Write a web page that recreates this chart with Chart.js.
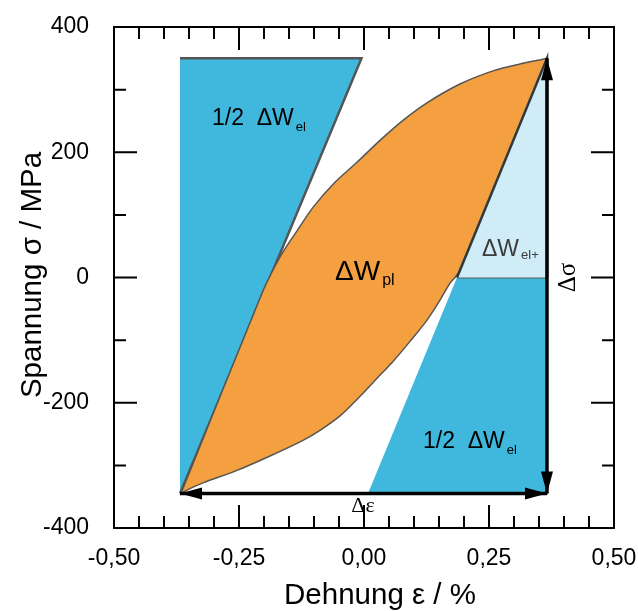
<!DOCTYPE html>
<html>
<head>
<meta charset="utf-8">
<script src="https://cdn.jsdelivr.net/npm/chart.js@4.4.0/dist/chart.umd.min.js"></script>
<style>
  html, body { margin: 0; padding: 0; background: #fff; }
  #chart { display: block; }
</style>
</head>
<body>
<canvas id="chart" width="638" height="611"></canvas>
<script>
// axis ticks
const strainTicks = [-0.5, -0.25, 0, 0.25, 0.5];
const strainTickLabels = ['-0,50', '-0,25', '0,00', '0,25', '0,50'];
const stressTicks = [-400, -200, 0, 200, 400];
const stressTickLabels = ['-400', '-200', '0', '200', '400'];

// hysteresis loop: loading branch (min -> max)
const loadStrain = [-0.366, -0.358, -0.204, -0.184, -0.162, -0.136, -0.102, -0.058, -0.014, 0.032, 0.078, 0.126, 0.192, 0.258, 0.312, 0.360, 0.366];
const loadStress = [-345, -329, -25, 9, 41, 72, 112, 152, 184, 219, 251, 279, 309, 330, 341, 349, 350];
// unloading branch (max -> min)
const unloadStrain = [0.366, 0.361, 0.190, 0.172, 0.152, 0.126, 0.092, 0.058, 0.026, -0.006, -0.048, -0.088, -0.122, -0.188, -0.254, -0.322, -0.358, -0.366];
const unloadStress = [350, 340, 9, -9, -36, -68, -102, -134, -161, -188, -221, -244, -260, -285, -308, -328, -341, -345];

// elastic energy areas
const elTopStrain = [-0.368, -0.005, -0.368];
const elTopStress = [350, 350, -345];
const elPlusStrain = [0.186, 0.366, 0.366];
const elPlusStress = [0, 350, 0];
const elBottomStrain = [0.186, 0.366, 0.366, 0.008];
const elBottomStress = [0, 0, -345, -345];

// amplitude arrows: strain range and stress range
const rangeStrain = [-0.368, 0.366];
const rangeStress = [-345, 350];

const pts = (xs, ys) => xs.map((x, i) => ({ x: x, y: ys[i] }));

const loop = pts(loadStrain, loadStress).concat(pts(unloadStrain, unloadStress).slice(1));

const FONT = "'Liberation Sans', Arial, sans-serif";
const SERIF = "'Liberation Serif', 'Times New Roman', serif";

// text labels in data coordinates
const labels = [
  { x: -0.304, y: 244, main: '1/2  \u0394W', sub: 'el', size: 23, subSize: 13, dy: 6, color: '#000' },
  { x: 0.118, y: -272, main: '1/2  \u0394W', sub: 'el', size: 23, subSize: 13, dy: 6, color: '#000' },
  { x: -0.058, y: -4, main: '\u0394W', sub: 'pl', size: 28, subSize: 16, dy: 5, color: '#000' },
  { x: 0.236, y: 34, main: '\u0394W', sub: 'el+', size: 23, subSize: 13, dy: 3, color: '#3c3c3c' }
];

function drawArrowHead(ctx, x1, y1, x2, y2) {
  const a = Math.atan2(y2 - y1, x2 - x1);
  const len = 22, hw = 6;
  ctx.beginPath();
  ctx.moveTo(x2, y2);
  ctx.lineTo(x2 - len * Math.cos(a) + hw * Math.sin(a), y2 - len * Math.sin(a) - hw * Math.cos(a));
  ctx.lineTo(x2 - len * Math.cos(a) - hw * Math.sin(a), y2 - len * Math.sin(a) + hw * Math.cos(a));
  ctx.closePath();
  ctx.fill();
}

function doubleArrow(ctx, x1, y1, x2, y2) {
  ctx.beginPath();
  ctx.moveTo(x1, y1);
  ctx.lineTo(x2, y2);
  ctx.stroke();
  drawArrowHead(ctx, x1, y1, x2, y2);
  drawArrowHead(ctx, x2, y2, x1, y1);
}

const decorations = {
  id: 'decorations',
  afterDatasetsDraw(chart) {
    const ctx = chart.ctx;
    const xs = chart.scales.x, ys = chart.scales.y;
    const a = chart.chartArea;
    ctx.save();

    // arrows
    ctx.strokeStyle = '#000';
    ctx.fillStyle = '#000';
    ctx.lineWidth = 3.5;
    const xMin = xs.getPixelForValue(rangeStrain[0]);
    const xMax = xs.getPixelForValue(rangeStrain[1]);
    const yMin = ys.getPixelForValue(rangeStress[0]);
    const yMax = ys.getPixelForValue(rangeStress[1]);
    doubleArrow(ctx, xMax, yMin, xMax, yMax);
    doubleArrow(ctx, xMin, yMin, xMax, yMin);

    // frame
    ctx.lineWidth = 2;
    ctx.strokeRect(a.left, a.top, a.right - a.left, a.bottom - a.top);

    // inward ticks on all four sides
    ctx.beginPath();
    for (let i = 0; i <= 20; i++) {
      const px = xs.getPixelForValue(-0.5 + i * 0.05);
      const l = i % 5 === 0 ? 23 : 12;
      ctx.moveTo(px, a.bottom); ctx.lineTo(px, a.bottom - l);
      ctx.moveTo(px, a.top); ctx.lineTo(px, a.top + l);
    }
    for (let i = 0; i <= 8; i++) {
      const py = ys.getPixelForValue(-400 + i * 100);
      const l = i % 2 === 0 ? 23 : 12;
      ctx.moveTo(a.left, py); ctx.lineTo(a.left + l, py);
      ctx.moveTo(a.right, py); ctx.lineTo(a.right - l, py);
    }
    ctx.stroke();

    // area labels
    ctx.textBaseline = 'alphabetic';
    ctx.textAlign = 'left';
    labels.forEach(lb => {
      const px = xs.getPixelForValue(lb.x);
      const py = ys.getPixelForValue(lb.y);
      ctx.fillStyle = lb.color;
      ctx.font = lb.size + 'px ' + FONT;
      ctx.fillText(lb.main, px, py);
      const w = ctx.measureText(lb.main).width;
      ctx.font = lb.subSize + 'px ' + FONT;
      ctx.fillText(lb.sub, px + w + 2, py + lb.dy);
    });

    // range symbols
    ctx.fillStyle = '#000';
    ctx.font = '22px ' + SERIF;
    ctx.textAlign = 'center';
    ctx.textBaseline = 'middle';
    ctx.fillText('\u0394\u03b5', xs.getPixelForValue(-0.002), ys.getPixelForValue(-365));
    ctx.save();
    ctx.translate(xs.getPixelForValue(0.408), ys.getPixelForValue(0));
    ctx.rotate(-Math.PI / 2);
    ctx.font = '25px ' + SERIF;
    ctx.fillText('\u0394\u03c3', 0, 0);
    ctx.restore();

    // axis titles
    ctx.font = '29.5px ' + FONT;
    ctx.textAlign = 'center';
    ctx.textBaseline = 'alphabetic';
    ctx.fillText('Dehnung \u03b5 / %', 380, 604);
    ctx.save();
    ctx.translate(41, 275);
    ctx.rotate(-Math.PI / 2);
    ctx.fillText('Spannung \u03c3 / MPa', 0, 0);
    ctx.restore();

    ctx.restore();
  }
};

const polygon = (data, bg, order, bw, tension, edge) => ({
  data: data,
  showLine: true,
  fill: 'shape',
  backgroundColor: bg,
  borderColor: edge,
  borderWidth: bw,
  pointRadius: 0,
  tension: tension,
  order: order
});

new Chart(document.getElementById('chart'), {
  type: 'scatter',
  data: {
    datasets: [
      polygon(loop, '#f4a040', 2, 1.5, 0.3, '#555'),
      polygon(pts(elPlusStrain, elPlusStress), '#d0ecf6', 1, 2.5, 0, '#2f3a40'),
      polygon(pts(elBottomStrain, elBottomStress), '#40b8de', 3, 2, 0, '#5a5a5a'),
      polygon(pts(elTopStrain, elTopStress), '#40b8de', 4, 2.5, 0, '#555')
    ]
  },
  options: {
    responsive: false,
    animation: false,
    devicePixelRatio: 1,
    layout: { padding: { left: 0, right: 24, top: 27, bottom: 0 } },
    plugins: { legend: { display: false }, tooltip: { enabled: false } },
    scales: {
      x: {
        type: 'linear',
        min: -0.5,
        max: 0.5,
        afterBuildTicks: s => { s.ticks = strainTicks.map(v => ({ value: v })); },
        afterFit: s => { s.height = 83; s.paddingLeft = 0; s.paddingRight = 0; },
        grid: { display: false, drawTicks: false },
        border: { display: false },
        ticks: {
          padding: 17,
          color: '#000',
          font: { family: FONT, size: 23 },
          callback: (v, i) => strainTickLabels[i]
        }
      },
      y: {
        type: 'linear',
        min: -400,
        max: 400,
        afterBuildTicks: s => { s.ticks = stressTicks.map(v => ({ value: v })); },
        afterFit: s => { s.width = 114; s.paddingTop = 0; s.paddingBottom = 0; },
        grid: { display: false, drawTicks: false },
        border: { display: false },
        ticks: {
          padding: 25,
          color: '#000',
          font: { family: FONT, size: 23 },
          callback: (v, i) => stressTickLabels[i]
        }
      }
    }
  },
  plugins: [decorations]
});
</script>
</body>
</html>
